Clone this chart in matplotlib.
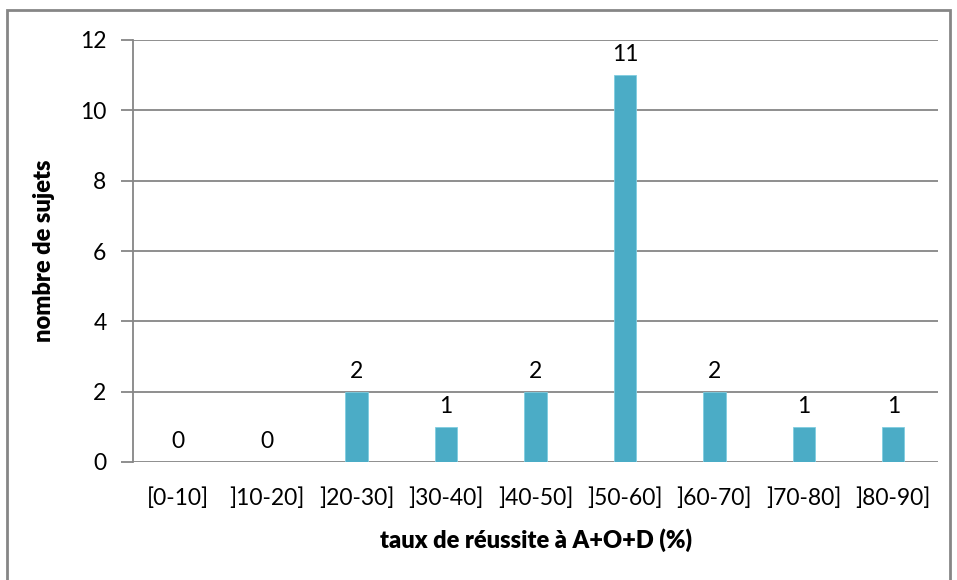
import matplotlib
matplotlib.use("Agg")
import matplotlib.pyplot as plt
from matplotlib.patches import Rectangle

categories = ["[0-10]", "]10-20]", "]20-30]", "]30-40]", "]40-50]", "]50-60]", "]60-70]", "]70-80]", "]80-90]"]
values = [0, 0, 2, 1, 2, 11, 2, 1, 1]

plt.rcParams['font.family'] = ['Lato', 'DejaVu Sans']

fig = plt.figure(figsize=(9.57, 5.8), dpi=100)
ax = fig.add_axes([133/957, (580-462)/580, (938-133)/957, (462-40)/580])

grid_c = '#868686'
x = list(range(len(categories)))
ax.bar(x, values, width=0.25, color='#4BACC6', edgecolor='#7fcde0', linewidth=0.6, zorder=3)
for xi, v in zip(x, values):
    ax.annotate(str(v), (xi, v), xytext=(0, 7), textcoords='offset points',
                ha='center', va='bottom', fontsize=16.5, color='black')

ax.set_xlim(-0.5, len(categories) - 0.5)
ax.set_ylim(0, 12)
ax.set_yticks(range(0, 13, 2))
ax.yaxis.grid(True, color=grid_c, linewidth=1.3, zorder=0)
ax.set_axisbelow(True)
ax.set_xticks(x)
ax.set_xticklabels(categories)
ax.tick_params(axis='x', length=0, pad=18, labelsize=16.5)
ax.tick_params(axis='y', length=9, width=1.3, color=grid_c, pad=10, labelsize=16.5)
for s in ['top', 'right', 'bottom']:
    ax.spines[s].set_visible(False)
ax.spines['left'].set_color(grid_c)
ax.spines['left'].set_linewidth(1.3)

ax.set_xlabel("taux de réussite à A+O+D (%)", fontsize=17, fontweight='heavy', labelpad=14)
ax.set_ylabel("nombre de sujets", fontsize=17, fontweight='heavy', labelpad=18)

fig.patches.append(Rectangle((7/957, -0.05), (950-7)/957, (580-10)/580 + 0.05,
                             transform=fig.transFigure, fill=False,
                             edgecolor='#868686', linewidth=2))

fig.savefig("out.png", dpi=100)
